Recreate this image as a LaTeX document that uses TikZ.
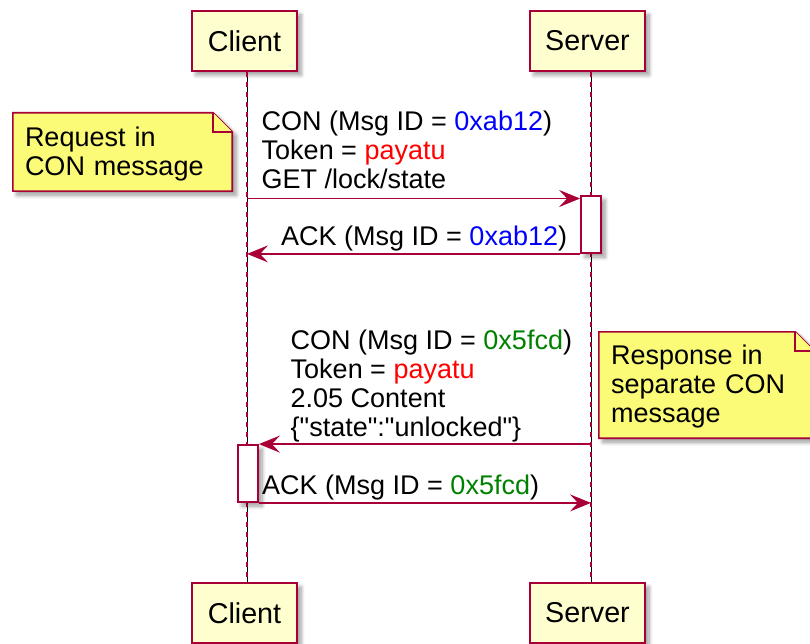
\documentclass[tikz,border=0pt]{standalone}
\usepackage{fontspec}
\setmainfont{Liberation Sans}
\usetikzlibrary{arrows.meta,shadows.blur}

\definecolor{umlred}{HTML}{A80036}
\definecolor{partfill}{HTML}{FEFECE}
\definecolor{notefill}{HTML}{FBFB77}
\definecolor{idblue}{HTML}{0000FF}
\definecolor{tokred}{HTML}{FF0000}
\definecolor{idgreen}{HTML}{008000}

\pgfdeclarelayer{background}
\pgfsetlayers{background,main}

\newcommand{\lines}[1]{\begin{tabular}[b]{@{}l@{}}#1\end{tabular}}
% straight double quote, bypassing the TeX ligature mapping
\newcommand{\dq}{\XeTeXglyph\XeTeXcharglyph"22\relax}

\tikzset{
  basefont/.style={font=\fontsize{27}{29}\selectfont},
  softshadow/.style={blur shadow={shadow xshift=4pt, shadow yshift=-4pt,
      shadow blur radius=4pt, shadow blur steps=8, shadow opacity=40}},
  participant/.style={draw=umlred, line width=2.5pt, fill=partfill,
      minimum height=60pt, inner sep=0pt, softshadow,
      font=\fontsize{28.7}{30}\selectfont},
  activation/.style={draw=umlred, line width=1.8pt, fill=white,
      minimum width=20pt, inner sep=0pt, softshadow},
  lifeblack/.style={draw=black, line width=0.7pt},
  lifedash/.style={draw=umlred, line width=2pt, dash pattern=on 5pt off 5pt},
  msg/.style={draw=umlred, line width=1.8pt,
      -{Stealth[length=21pt,width=17pt,inset=8pt]}},
  msgtext/.style={anchor=base west, inner sep=0pt, basefont},
  notetext/.style={draw=none, fill=none, inner xsep=12pt, inner ysep=0pt,
      align=left, basefont},
  notebody/.style={draw=umlred, line width=1.6pt, fill=notefill, softshadow},
  notefold/.style={draw=umlred, line width=1.6pt, fill=notefill},
}

\begin{document}
\begin{tikzpicture}[x=1pt, y=-1pt]
\useasboundingbox (0,0) rectangle (810,644);

% participants, head and foot
\node[participant, minimum width=105pt] (cTop) at (244.5,41)  {Client};
\node[participant, minimum width=115pt] (sTop) at (587.5,41)  {Server};
\node[participant, minimum width=105pt] (cBot) at (244.5,613) {Client};
\node[participant, minimum width=115pt] (sBot) at (587.5,613) {Server};

% lifelines
\coordinate (cL) at (247,0);
\coordinate (sL) at (591,0);
\draw[lifeblack] (cL |- cTop.south) -- (cL |- cBot.north);
\draw[lifedash]  (cL |- cTop.south) -- (cL |- cBot.north);
\draw[lifeblack] (sL |- sTop.south) -- (sL |- sBot.north);
\draw[lifedash]  (sL |- sTop.south) -- (sL |- sBot.north);

% activation bars
\node[activation, minimum height=57pt] (sAct) at (591,224.5) {};
\node[activation, minimum height=57pt] (cAct) at (248,473.5) {};

% messages
\coordinate (m1) at (247,198.5);
\draw[msg] (m1) -- (sAct.west |- m1);
\draw[msg] (sAct.south west) -- (cL |- sAct.south west);
\draw[msg] (sL |- cAct.north east) -- (cAct.north east);
\draw[msg] (cAct.south east) -- (sL |- cAct.south east);

% message texts
\node[msgtext] (t1) at (261.5,188.5) {\lines{CON (Msg ID = \textcolor{idblue}{0xab12})\\
  Token = \textcolor{tokred}{payatu}\\GET /lock/state}};
\node[msgtext] (t2) at (281,245) {ACK (Msg ID = \textcolor{idblue}{0xab12})};
\node[msgtext] (t3) at (290.5,436.5) {\lines{CON (Msg ID = \textcolor{idgreen}{0x5fcd})\\
  Token = \textcolor{tokred}{payatu}\\2.05 Content\\\{\dq state\dq:\dq unlocked\dq\}}};
\node[msgtext] (t4) at (262,494) {ACK (Msg ID = \textcolor{idgreen}{0x5fcd})};

% notes: the text box sits 3pt below the centre of the paper shape
\node[notetext, minimum width=219pt, minimum height=78pt, text width=195pt]
  (n1) at (122.5,155) {\lines{Request in\\CON message}};
\node[notetext, minimum width=215pt, minimum height=106pt, text width=191pt]
  (n2) at (706.5,388) {\lines{Response in\\separate CON\\message}};

\begin{pgfonlayer}{background}
  \foreach \n in {n1,n2} {
    \path[notebody] ([yshift=3pt]\n.north west) -- ([xshift=-19pt,yshift=3pt]\n.north east)
      -- ([yshift=-16pt]\n.north east) -- ([yshift=3pt]\n.south east)
      -- ([yshift=3pt]\n.south west) -- cycle;
    \path[notefold] ([xshift=-19pt,yshift=3pt]\n.north east)
      -- ([xshift=-19pt,yshift=-16pt]\n.north east)
      -- ([yshift=-16pt]\n.north east);
  }
\end{pgfonlayer}
\end{tikzpicture}
\end{document}
